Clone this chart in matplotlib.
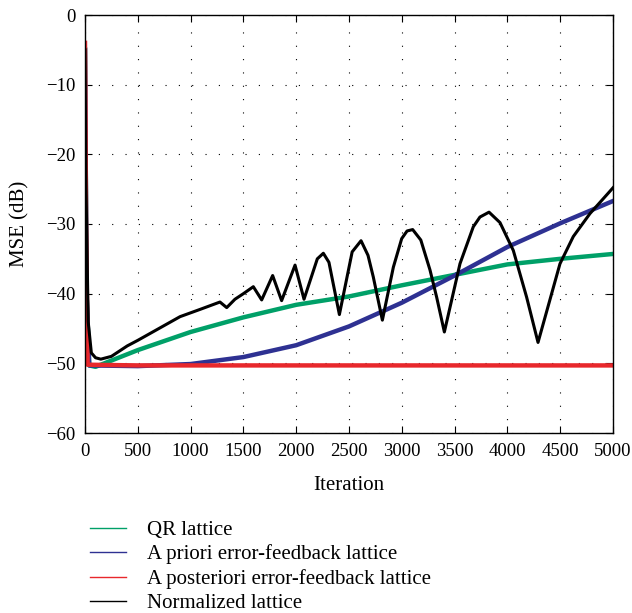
import matplotlib
matplotlib.use("Agg")
import matplotlib.pyplot as plt
import numpy as np

plt.rcParams['font.family'] = ['Liberation Serif', 'DejaVu Serif']

# values (iteration, MSE in dB)
qr_it = [0, 15, 40, 100, 300, 500, 1000, 1500, 2000, 2500, 3000, 3500, 4000, 4500, 5000]
qr_mse = [-5, -40, -50.3, -50.5, -49.3, -48.1, -45.5, -43.4, -41.6, -40.4, -38.8, -37.3, -35.8, -35.0, -34.3]

apri_it = [0, 15, 40, 500, 1000, 1500, 2000, 2500, 3000, 3500, 4000, 4500, 5000]
apri_mse = [-5, -40, -50.3, -50.4, -50.1, -49.1, -47.4, -44.7, -41.3, -37.4, -33.3, -29.9, -26.7]

apost_it = [0, 10, 25, 500, 1000, 1500, 2000, 2500, 3000, 3500, 4000, 4500, 5000]
apost_mse = [-4, -30, -50.2, -50.3, -50.3, -50.3, -50.3, -50.3, -50.3, -50.3, -50.3, -50.3, -50.3]

norm_it = [0, 10, 30, 60, 100, 150, 250, 400, 500, 700, 900, 1100, 1278, 1342, 1420, 1500,
           1594, 1673, 1777, 1862, 1989, 2074, 2200, 2257, 2310, 2409, 2530, 2614, 2680,
           2730, 2816, 2920, 2999, 3050, 3103, 3180, 3267, 3330, 3403, 3551, 3677, 3740,
           3826, 3930, 4056, 4182, 4290, 4498, 4624, 4782, 4965, 5000]
norm_mse = [-5, -25, -44, -48.5, -49.2, -49.4, -49.0, -47.5, -46.7, -45.0, -43.3, -42.2, -41.2, -42.0, -40.8, -40.0,
            -39.0, -40.9, -37.4, -41.0, -35.9, -40.8, -35.0, -34.2, -35.5, -43.0, -34.0, -32.4, -34.5,
            -37.6, -43.8, -36.2, -32.1, -31.0, -30.8, -32.3, -36.6, -40.5, -45.5, -35.7, -30.4, -29.0,
            -28.3, -29.8, -33.8, -40.5, -47.0, -35.7, -31.8, -28.5, -25.4, -24.8]

labels = ["QR lattice", "A priori error-feedback lattice",
          "A posteriori error-feedback lattice", "Normalized lattice"]
colors = ["#00a068", "#2e3192", "#e8282c", "black"]

fig = plt.figure(figsize=(6.32, 6.13), dpi=100)
ax = fig.add_axes([85/632, 1-433/613, 528/632, 418/613])

ax.plot(qr_it, qr_mse, color=colors[0], lw=3.2)
ax.plot(apri_it, apri_mse, color=colors[1], lw=3.2)
ax.plot(apost_it, apost_mse, color=colors[2], lw=3.2)
ax.plot(norm_it, norm_mse, color=colors[3], lw=2.2)

ax.set_xlim(0, 5000)
ax.set_ylim(-60, 0)
ax.set_xticks(np.arange(0, 5001, 500))
ax.set_yticks(np.arange(-60, 1, 10))
ax.grid(True, color='black', linestyle=(0, (1, 11)), lw=0.8)
ax.tick_params(direction='in', top=True, right=True, length=5, labelsize=13.5, pad=7)
for s in ax.spines.values():
    s.set_linewidth(1.0)
ax.set_xlabel("Iteration", fontsize=15, labelpad=12)
ax.set_ylabel("MSE (dB)", fontsize=15)
ax.yaxis.set_label_coords(-0.106, 0.5)

handles = [plt.Line2D([], [], color=c, lw=1.0) for c in colors]
fig.legend(handles, labels, loc='upper left', bbox_to_anchor=(82/632, 1-512/613),
           frameon=False, fontsize=15, handlelength=1.7, handletextpad=1.0,
           labelspacing=0.22, borderaxespad=0)

fig.savefig("out.png", dpi=100)
